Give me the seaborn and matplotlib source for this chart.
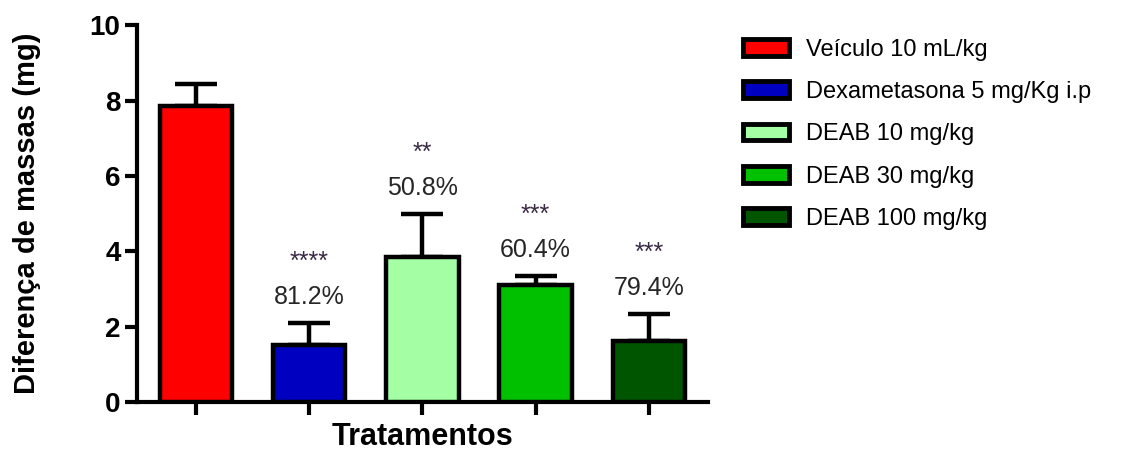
import matplotlib
matplotlib.use("Agg")
import matplotlib.pyplot as plt
from matplotlib.patches import Patch
import seaborn as sns
import pandas as pd

# Treatment groups and their measured mass differences (mg)
grupos = ["Veículo 10 mL/kg", "Dexametasona 5 mg/Kg i.p", "DEAB 10 mg/kg",
          "DEAB 30 mg/kg", "DEAB 100 mg/kg"]
medias = [7.85, 1.5, 3.85, 3.1, 1.62]
erros = [0.6, 0.6, 1.15, 0.25, 0.72]
inibicao = ["", "81.2%", "50.8%", "60.4%", "79.4%"]
signif = ["", "****", "**", "***", "***"]
cores = ["#ff0000", "#0000c0", "#a4ffa4", "#00c000", "#005500"]

df = pd.DataFrame({"grupo": grupos, "media": medias})

sns.set_theme(style="white")
plt.rcParams["font.family"] = ["Liberation Sans", "DejaVu Sans"]
plt.rcParams["text.color"] = "black"
plt.rcParams["axes.labelcolor"] = "black"
plt.rcParams["xtick.color"] = "black"
plt.rcParams["ytick.color"] = "black"

fig = plt.figure(figsize=(11.25, 4.5), dpi=100)
ax = fig.add_axes([0.122, 0.107, 0.507, 0.837])

sns.barplot(data=df, x="grupo", y="media", hue="grupo", palette=cores,
            order=grupos, hue_order=grupos, dodge=False, legend=False,
            errorbar=None, width=0.64, edgecolor="black", linewidth=3.2,
            saturation=1, ax=ax, zorder=3)

xs = range(len(grupos))
ax.errorbar(xs, medias, yerr=[[0] * len(erros), erros], fmt="none",
            ecolor="black", elinewidth=3.2, capsize=15, capthick=3.2, zorder=2)

for x, m, e, p, s in zip(xs, medias, erros, inibicao, signif):
    if not p:
        continue
    topo = m + e
    ax.text(x, topo + 0.68, p, ha="center", va="center", fontsize=18,
            color="#262626")
    ax.text(x, topo + 1.62, s, ha="center", va="center", fontsize=18,
            color="#3a2a44")

ax.set_ylim(0, 10)
ax.set_xlim(-0.52, 4.52)
ax.set_yticks([0, 2, 4, 6, 8, 10])
ax.set_xticks(list(xs))
ax.set_xticklabels([])
ax.tick_params(axis="both", which="major", direction="out", length=9,
               width=3, color="black", bottom=True, left=True, pad=3)
for lab in ax.get_yticklabels():
    lab.set_fontsize(20)
    lab.set_fontweight("bold")

for side in ["top", "right"]:
    ax.spines[side].set_visible(False)
for side in ["left", "bottom"]:
    ax.spines[side].set_linewidth(3)
    ax.spines[side].set_color("black")

ax.set_xlabel("Tratamentos", fontsize=22, fontweight="bold")
ax.set_ylabel("Diferença de massas (mg)", fontsize=21, fontweight="bold")
ax.xaxis.set_label_coords(0.5, -0.053)
ax.yaxis.set_label_coords(-0.168, 0.5)

handles = [Patch(facecolor=c, edgecolor="black", linewidth=3.5, label=g)
           for c, g in zip(cores, grupos)]
fig.legend(handles=handles, loc="upper left", bbox_to_anchor=(0.652, 0.935),
           frameon=False, fontsize=17, handlelength=1.95, handleheight=0.7,
           handletextpad=0.7, labelspacing=0.86, borderaxespad=0)

fig.savefig("out.png", dpi=100, facecolor="white")
